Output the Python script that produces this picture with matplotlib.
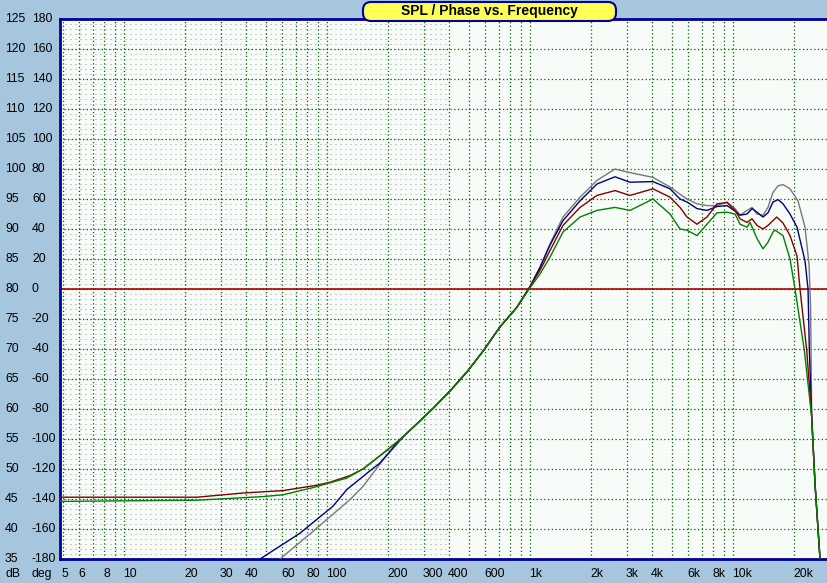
# SPL / Phase vs. Frequency - recreated chart

import matplotlib
matplotlib.use("Agg")
import matplotlib.pyplot as plt
from matplotlib import transforms
from matplotlib.patches import FancyBboxPatch
from matplotlib.ticker import NullLocator

plt.rcParams['font.family'] = ['Liberation Sans', 'DejaVu Sans']

# -------------------------
# Data (Hz, dB)
# -------------------------
freq_gray = [58.7, 86, 129.8, 150.4, 188.7, 247.9, 332.9, 403.6, 489.5, 589, 711.8, 860,
             1000, 1120, 1254, 1454, 1764, 2138, 2622, 3109, 4035, 4895, 5482, 5934, 6646,
             7446, 8340, 9342, 10230, 10830, 11720, 12410, 13130, 14050, 14870, 15740,
             16660, 17630, 19090, 20900, 22630, 23700, 24100, 24420, 25350, 26830]
spl_gray = [35.0, 39.7, 44.9, 47.1, 51.5, 56.0, 60.1, 63.0, 66.2, 69.7, 73.7, 76.9,
            80.4, 83.6, 87.5, 92.0, 95.3, 98.1, 100.0, 99.4, 98.6, 97.0, 95.8, 95.0, 94.2,
            93.9, 93.9, 94.5, 93.4, 92.3, 93.1, 93.6, 92.5, 92.3, 93.6, 96.1,
            97.2, 97.4, 96.7, 94.7, 90.3, 84.0, 77.0, 58.6, 47.5, 35.0]

freq_blue = [46.8, 73.6, 107, 125.5, 157.4, 182.4, 228.8, 276.7, 332.9, 403.6, 489.5, 589,
             711.8, 860, 1000, 1120, 1254, 1454, 1764, 2138, 2622, 3109, 4035, 4895, 5482,
             5934, 6646, 7446, 8340, 9342, 10230, 10830, 11720, 12410, 13130, 14050, 14870,
             15740, 16660, 17630, 19090, 20670, 22630, 23420, 23770, 24420, 25350, 26830]
spl_blue = [35.0, 39.3, 43.8, 46.6, 49.3, 51.0, 54.9, 57.5, 60.1, 63.0, 66.2, 69.7,
            73.7, 76.9, 80.4, 83.6, 87.3, 91.4, 94.7, 97.5, 98.7, 97.8, 97.9, 96.7, 95.0,
            94.5, 93.4, 93.1, 93.75, 93.9, 93.0, 92.3, 92.5, 93.4, 92.8, 92.0, 92.7,
            94.5, 94.9, 94.2, 92.5, 90.3, 84.7, 80.0, 69.8, 58.6, 47.5, 35.0]

freq_red = [4.84, 22.9, 38.6, 60.7, 89.3, 103.5, 129.8, 150.4, 188.7, 228.8, 276.7, 332.9,
            403.6, 489.5, 589, 711.8, 860, 1000, 1120, 1254, 1454, 1764, 2138, 2622, 3109,
            4035, 4895, 5482, 5934, 6646, 7446, 8340, 9342, 10230, 10830, 11720, 12410,
            13130, 14050, 14870, 15740, 16420, 17630, 19090, 20670, 21380, 23070, 24420,
            25350, 26830]
spl_red = [45.3, 45.3, 46.0, 46.4, 47.3, 47.8, 48.9, 50.0, 52.6, 54.9, 57.5, 60.1,
           63.0, 66.2, 69.7, 73.7, 76.9, 80.4, 83.1, 86.4, 90.6, 93.6, 95.6, 96.4, 95.6,
           96.7, 95.3, 93.6, 92.0, 90.8, 92.0, 94.2, 94.4, 93.1, 91.7, 91.1, 91.7,
           90.6, 90.0, 90.6, 91.4, 92.0, 91.0, 88.9, 85.5, 80.0, 69.8, 58.6,
           47.5, 35.0]

freq_green = [4.84, 22.9, 48.4, 60.7, 85.3, 125.5, 150.4, 188.7, 228.8, 276.7, 332.9, 403.6,
              489.5, 589, 711.8, 860, 1000, 1120, 1254, 1454, 1764, 2138, 2622, 3109, 4035,
              4895, 5482, 5934, 6646, 7446, 8340, 9342, 10230, 10830, 11720, 12130, 13130,
              14050, 14870, 15740, 16100, 17630, 19090, 20200, 22450, 24420, 25350, 26830]
spl_green = [44.6, 44.8, 45.4, 45.7, 46.9, 48.5, 50.0, 52.6, 54.9, 57.5, 60.1, 63.0,
             66.2, 69.7, 73.7, 76.9, 80.2, 82.5, 85.3, 89.5, 92.0, 93.1, 93.6, 93.1, 95.0,
             92.5, 90.0, 89.8, 88.9, 90.8, 92.7, 92.8, 92.5, 90.8, 90.3, 91.1, 88.4,
             86.7, 87.8, 89.5, 89.8, 88.9, 85.0, 80.0, 69.8, 58.6, 47.5, 35.0]

freq_ticks = [5, 6, 8, 10, 20, 30, 40, 60, 80, 100, 200, 300, 400, 600,
              1000, 2000, 3000, 4000, 6000, 8000, 10000, 20000]
freq_labels = ["5", "6", "8", "10", "20", "30", "40", "60", "80", "100", "200", "300",
               "400", "600", "1k", "2k", "3k", "4k", "6k", "8k", "10k", "20k"]
db_ticks = [35, 40, 45, 50, 55, 60, 65, 70, 75, 80, 85, 90, 95, 100, 105, 110, 115, 120, 125]
deg_ticks = [-180, -160, -140, -120, -100, -80, -60, -40, -20, 0,
             20, 40, 60, 80, 100, 120, 140, 160, 180]

# -------------------------
# Figure / axes
# -------------------------
W, H = 827, 583
fig = plt.figure(figsize=(W / 100, H / 100), dpi=100)
fig.patch.set_facecolor('#a6c6de')

ax = fig.add_axes([60 / W, 24 / H, 767 / W, 540 / H])
ax.set_facecolor('#f8fcf8')
ax.set_xscale('log')
ax.set_xlim(4.84, 29040)
ax.set_ylim(35, 125)
ax.xaxis.set_major_locator(NullLocator())
ax.xaxis.set_minor_locator(NullLocator())
ax.yaxis.set_major_locator(NullLocator())

for s in ['left', 'top', 'bottom']:
    ax.spines[s].set_color('#00009c')
    ax.spines[s].set_linewidth(2)
ax.spines['right'].set_visible(False)

# grid
grid_green = '#006000'
vgrid = [m * 10 ** e for e in range(0, 5) for m in range(1, 10) if 4.84 < m * 10 ** e < 29040]
for f in vgrid:
    ax.axvline(f, color=grid_green, lw=0.9, ls=(0, (1, 2)), zorder=1)
for d in db_ticks[1:-1]:
    ax.axhline(d, color=grid_green, lw=0.9, ls=(0, (1, 2)), zorder=1)

# fine dot lattice in the low frequency part
rows = [35 + i * 5 / 6 for i in range(1, 108)]
ax.hlines(rows, 4.84, 400, colors='#9a9a9a', lw=0.72, linestyles=(0, (1, 4)), zorder=0.9)

ax.axhline(80, color='#b00000', lw=1.2, zorder=2)

# curves
ax.plot(freq_gray, spl_gray, color='#787878', lw=1.0, zorder=3)
ax.plot(freq_blue, spl_blue, color='#000080', lw=1.0, zorder=3)
ax.plot(freq_red, spl_red, color='#800000', lw=1.0, zorder=3)
ax.plot(freq_green, spl_green, color='#008000', lw=1.0, zorder=3)

# -------------------------
# Labels
# -------------------------
ty = transforms.blended_transform_factory(fig.transFigure, ax.transData)
for d, dg in zip(db_ticks, deg_ticks):
    ax.text(5 / W, d, str(d), transform=ty, ha='left', va='center', fontsize=8.8, clip_on=False)
    ax.text(32 / W, d, str(dg), transform=ty, ha='left', va='center', fontsize=8.8, clip_on=False)

tx = transforms.offset_copy(transforms.blended_transform_factory(ax.transData, fig.transFigure),
                            fig=fig, x=-1, y=0, units='dots')
ylab = (H - 574) / H
for f, lab in zip(freq_ticks, freq_labels):
    ax.text(f, ylab, lab, transform=tx, ha='left', va='center', fontsize=8.8, clip_on=False)
fig.text(5 / W, ylab, "dB", ha='left', va='center', fontsize=8.8)
fig.text(32 / W, ylab, "deg", ha='left', va='center', fontsize=8.8)

# title box
box = FancyBboxPatch((3.63, (H - 21) / 100), 2.53, 0.19,
                     boxstyle='round,pad=0,rounding_size=0.08',
                     transform=fig.dpi_scale_trans, fc='#ffff55', ec='#00009c', lw=1.5)
fig.add_artist(box)
fig.text(489.5 / W, (H - 11.5) / H, "SPL / Phase vs. Frequency", ha='center', va='center',
         fontsize=10, fontweight='bold')

fig.savefig('out.png', dpi=100)
